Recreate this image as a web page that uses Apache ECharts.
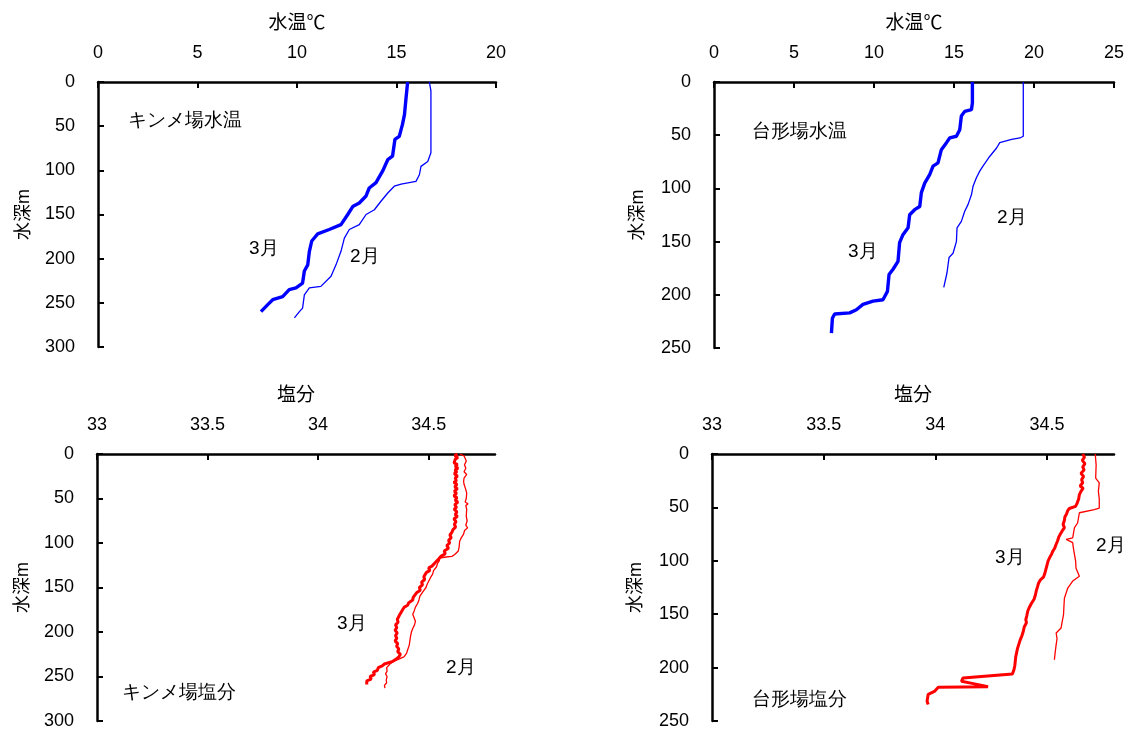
<!DOCTYPE html>
<html>
<head>
<meta charset="utf-8">
<script src="https://cdn.jsdelivr.net/npm/echarts@6/dist/echarts.min.js"></script>
<style>html,body{margin:0;padding:0;background:#fff}#c{width:1129px;height:733px}</style>
</head>
<body>
<div id="c"></div>
<script>
// ---- data: [value, depth m] ----
const kinmeTempMar = [[15.56,0],[15.48,18],[15.4,37],[15.3,48],[15.14,61.5],[14.92,65],[14.8,84],[14.56,88],[14.3,101],[13.97,114],[13.63,120],[13.47,129],[13.13,137],[12.8,141],[12.55,150],[12.21,161.5],[11.62,167],[11.04,172],[10.74,180],[10.62,192],[10.54,207],[10.37,214],[10.28,227.6],[9.95,233],[9.61,235],[9.28,243],[8.78,246.5],[8.53,252],[8.19,260]];
const kinmeTempFeb = [[16.65,0],[16.73,10],[16.73,80],[16.57,90],[16.23,95.5],[16.15,105],[15.98,112.5],[15.23,115.5],[14.89,118],[14.56,125.7],[14.22,135],[13.89,144.6],[13.47,150],[13.13,161.5],[12.63,167],[12.38,176.7],[12.21,191.7],[11.96,207],[11.71,220],[11.2,231.4],[10.62,233],[10.37,241],[10.28,256],[10.12,260],[9.87,267]];
const daikeiTempMar = [[16.15,0],[16.15,19.7],[16.09,26],[15.67,27.6],[15.46,32],[15.36,44.8],[15.15,51],[14.73,52.6],[14.53,57],[14.21,63.6],[14.0,76],[13.69,79],[13.48,87],[13.17,95],[12.96,104],[12.86,117],[12.54,120],[12.23,124.7],[12.13,137],[11.81,143.5],[11.6,151],[11.5,168.5],[11.19,176],[10.94,181],[10.84,196.8],[10.56,204.6],[9.94,206],[9.31,209],[8.9,214],[8.48,217],[7.54,218],[7.4,222],[7.34,236]];
const daikeiTempFeb = [[19.33,0],[19.33,51],[19.12,52.6],[18.6,54],[17.86,57],[17.66,62],[17.23,70],[16.81,79],[16.6,84],[16.4,90],[16.19,98],[16.09,106],[15.88,115],[15.67,121.5],[15.46,131],[15.19,137],[15.15,150],[14.94,161],[14.69,165],[14.56,179.5],[14.36,193]];
const kinmeSalMar = [[34.63,0],[34.618,2],[34.632,4],[34.62,6],[34.628,8],[34.615,10],[34.63,12],[34.62,14],[34.633,16],[34.618,18],[34.628,20],[34.616,22],[34.63,25],[34.62,27],[34.625,30],[34.614,32],[34.628,34],[34.618,37],[34.63,39],[34.616,42],[34.626,44],[34.614,47],[34.628,49],[34.62,52],[34.632,54],[34.618,57],[34.626,60],[34.615,62],[34.628,65],[34.62,68],[34.63,70],[34.614,73],[34.624,76],[34.616,79],[34.622,82],[34.61,85],[34.605,88],[34.596,91],[34.602,94],[34.59,97],[34.595,100],[34.582,103],[34.59,106],[34.57,109],[34.575,112],[34.555,115],[34.545,118],[34.548,120],[34.53,122],[34.535,124],[34.515,126],[34.5,128],[34.505,131],[34.49,133],[34.495,135],[34.478,138],[34.482,141],[34.468,144],[34.472,147],[34.458,150],[34.462,153],[34.445,156],[34.45,158],[34.43,161],[34.428,164],[34.41,167],[34.405,170],[34.39,172],[34.382,175],[34.375,178],[34.368,181],[34.372,183],[34.358,186],[34.362,189],[34.35,192],[34.356,195],[34.348,198],[34.358,201],[34.35,204],[34.356,207],[34.348,210],[34.36,213],[34.355,216],[34.365,219],[34.36,222],[34.372,225],[34.365,228],[34.35,231],[34.338,233],[34.3,236],[34.29,238],[34.272,240],[34.268,243],[34.25,245],[34.255,248],[34.235,250],[34.24,253],[34.22,255],[34.228,257],[34.22,259]];
const kinmeSalFeb = [[34.64,0],[34.66,2],[34.665,4],[34.67,8],[34.662,12],[34.668,16],[34.66,20],[34.672,23],[34.66,27],[34.658,31],[34.66,34],[34.668,36],[34.668,40],[34.672,44],[34.67,50],[34.665,54],[34.678,56],[34.668,58],[34.672,62],[34.67,70],[34.674,75],[34.668,80],[34.676,83],[34.662,86],[34.658,90],[34.648,94],[34.64,98],[34.638,104],[34.634,109],[34.618,113],[34.605,115],[34.57,116],[34.55,117],[34.548,120],[34.54,123],[34.535,127],[34.522,131],[34.518,135],[34.508,139],[34.5,143],[34.492,147],[34.488,150],[34.476,154],[34.468,157],[34.46,160],[34.456,164],[34.45,168],[34.44,172],[34.435,176],[34.428,180],[34.434,184],[34.44,188],[34.436,192],[34.428,196],[34.422,200],[34.418,205],[34.415,210],[34.412,215],[34.405,220],[34.4,224],[34.388,228],[34.36,231],[34.34,233],[34.325,236],[34.31,240],[34.312,244],[34.305,247],[34.312,250],[34.308,254],[34.31,257],[34.3,260],[34.302,263]];
const daikeiSalMar = [[34.66,0],[34.668,3],[34.658,6],[34.67,9],[34.66,12],[34.666,15],[34.652,18],[34.664,21],[34.655,24],[34.66,27],[34.648,30],[34.662,32],[34.652,35],[34.645,38],[34.642,42],[34.635,46],[34.628,49],[34.6,51],[34.593,53],[34.588,56],[34.58,59],[34.578,62],[34.572,66],[34.578,69],[34.568,72],[34.56,75],[34.552,78],[34.548,81],[34.54,85],[34.535,88],[34.526,91],[34.52,94],[34.512,97],[34.505,100],[34.5,104],[34.495,108],[34.49,112],[34.485,115],[34.47,118],[34.462,121],[34.458,124],[34.452,128],[34.448,132],[34.442,136],[34.43,140],[34.42,144],[34.414,147],[34.41,151],[34.405,155],[34.408,158],[34.398,162],[34.394,166],[34.388,170],[34.38,174],[34.374,178],[34.368,182],[34.364,186],[34.36,190],[34.358,194],[34.356,198],[34.352,202],[34.345,206],[34.34,207.6],[34.124,209.7],[34.117,212.8],[34.17,215],[34.236,218],[34.013,218.5],[33.998,222],[33.968,225],[33.963,231.5],[33.968,234.6]];
const daikeiSalFeb = [[34.716,0],[34.72,10],[34.718,22.5],[34.734,27],[34.73,35],[34.734,42],[34.734,50.6],[34.712,52],[34.645,55],[34.637,64.6],[34.623,69],[34.615,78.6],[34.586,80],[34.615,83],[34.618,88],[34.623,94],[34.628,100],[34.63,107],[34.645,114.5],[34.615,119],[34.593,125.5],[34.578,135],[34.576,142],[34.574,150.5],[34.568,157],[34.563,163],[34.541,167.6],[34.545,173],[34.541,178.5],[34.537,185],[34.533,192.6]];

const panelTitles = ['キンメ場水温','台形場水温','キンメ場塩分','台形場塩分'];
const xNames = ['水温℃','水温℃','塩分','塩分'];
const yName = '水深m';

const FONT = 'Liberation Sans, "Noto Sans CJK JP", sans-serif';
const chart = echarts.init(document.getElementById('c'));

const grids = [
  {left:98, top:82, width:398, height:265},
  {left:714, top:82, width:400, height:266},
  {left:97, top:454, width:398, height:267},
  {left:712, top:454, width:402, height:267}
];
const xr = [{min:0,max:20,interval:5},{min:0,max:25,interval:5},{min:33,max:34.8,interval:0.5},{min:33,max:34.8,interval:0.5}];
const yr = [300,250,300,250];

const xAxis = grids.map((g,i)=>({
  gridIndex:i, type:'value', position:'top', min:xr[i].min, max:xr[i].max, interval:xr[i].interval,
  name:xNames[i], nameLocation:'middle', nameGap:49,
  nameTextStyle:{fontSize:19, color:'#000', fontFamily:FONT},
  axisLine:{show:true, onZero:false, lineStyle:{color:'#000', width:2.5}},
  axisTick:{show:true, inside:true, length:6, lineStyle:{color:'#000', width:2}},
  axisLabel:{fontSize:18, color:'#000', margin:20, fontFamily:FONT, showMaxLabel: i>=2 ? false : true},
  splitLine:{show:false}
}));
const yAxis = grids.map((g,i)=>({
  gridIndex:i, type:'value', inverse:true, min:0, max:yr[i], interval:50,
  name:yName, nameLocation:'middle', nameGap:i%2===0?65:67, nameRotate:90,
  nameTextStyle:{fontSize:18, color:'#000', fontFamily:FONT},
  axisLine:{show:true, onZero:false, lineStyle:{color:'#000', width:2.5}},
  axisTick:{show:true, inside:true, length:6, lineStyle:{color:'#000', width:2}},
  axisLabel:{fontSize:18, color:'#000', margin:23, fontFamily:FONT},
  splitLine:{show:false}
}));

function ser(i, data, color, w){
  return {type:'line', xAxisIndex:i, yAxisIndex:i, data:data, showSymbol:false, symbol:'none',
    lineStyle:{color:color, width:w}, itemStyle:{color:color}, animation:false, silent:true};
}
const series = [
  ser(0, kinmeTempMar, '#0000ff', 3.4), ser(0, kinmeTempFeb, '#0000ff', 1.3),
  ser(1, daikeiTempMar, '#0000ff', 3.4), ser(1, daikeiTempFeb, '#0000ff', 1.3),
  ser(2, kinmeSalMar, '#ff0000', 3), ser(2, kinmeSalFeb, '#ff0000', 1.3),
  ser(3, daikeiSalMar, '#ff0000', 3), ser(3, daikeiSalFeb, '#ff0000', 1.3)
];

function txt(x,y,s){return {type:'text', left:x, top:y, style:{text:s, fontSize:19, fill:'#000', font:'19px '+FONT}};}
const graphic = [
  txt(128,111,panelTitles[0]), txt(249,239,'3月'), txt(350,247,'2月'),
  txt(752,122,panelTitles[1]), txt(848,242,'3月'), txt(997,208,'2月'),
  txt(122,683,panelTitles[2]), txt(337,614,'3月'), txt(446,658,'2月'),
  txt(752,690,panelTitles[3]), txt(995,548,'3月'), txt(1096,536,'2月')
];

chart.setOption({animation:false, grid:grids, xAxis:xAxis, yAxis:yAxis, series:series, graphic:graphic});
</script>
</body>
</html>
